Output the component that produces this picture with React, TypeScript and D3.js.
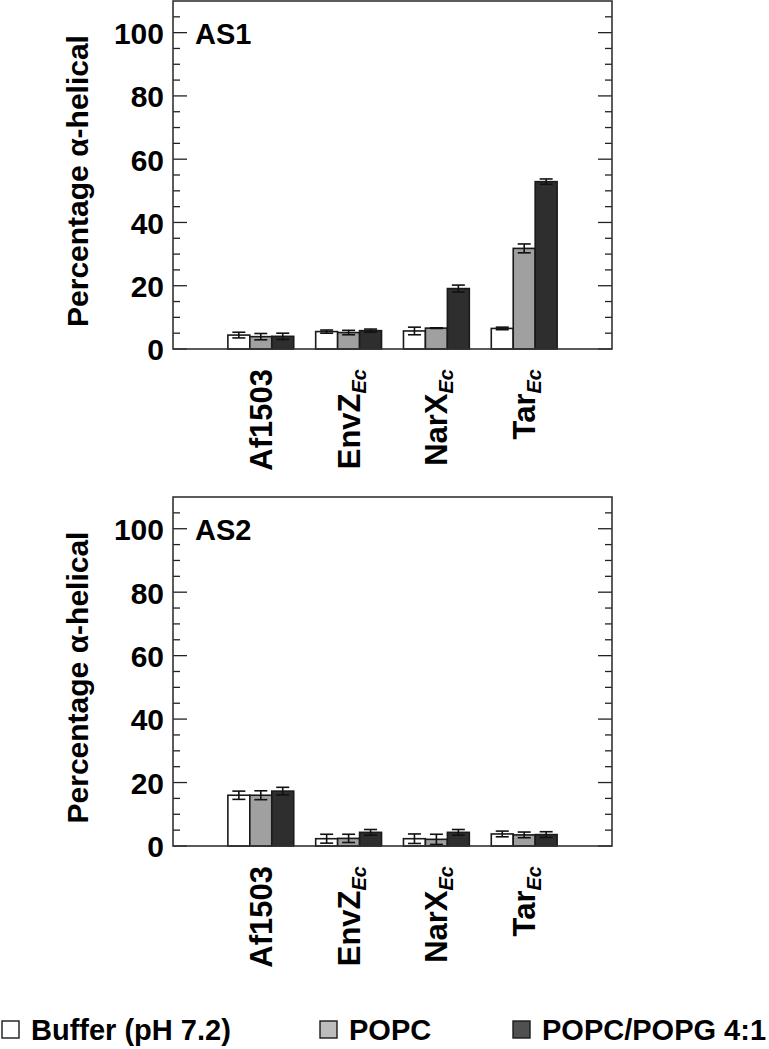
import * as d3 from 'd3';

const categories = ['Af1503', 'EnvZ', 'NarX', 'Tar'];
const subscripts = ['', 'Ec', 'Ec', 'Ec'];
const seriesNames = ['Buffer (pH 7.2)', 'POPC', 'POPC/POPG 4:1'];
const yTicks = [0, 20, 40, 60, 80, 100];

// AS1 panel
const as1Buffer = [4.4, 5.5, 5.7, 6.5];
const as1BufferErr = [0.9, 0.5, 1.2, 0.4];
const as1Popc = [3.9, 5.2, 6.6, 31.8];
const as1PopcErr = [1.0, 0.7, 0.1, 1.4];
const as1Popg = [4.0, 5.8, 19.1, 52.9];
const as1PopgErr = [1.0, 0.5, 1.1, 0.85];

// AS2 panel
const as2Buffer = [16.0, 2.3, 2.3, 3.8];
const as2BufferErr = [1.3, 1.4, 1.5, 0.9];
const as2Popc = [16.0, 2.4, 2.1, 3.5];
const as2PopcErr = [1.4, 1.3, 1.6, 0.9];
const as2Popg = [17.3, 4.3, 4.3, 3.6];
const as2PopgErr = [1.2, 0.9, 0.9, 0.9];

const barFill = ['#ffffff', '#a0a0a0', '#2e2e2e'];
const legendFill = ['#ffffff', '#bdbdbd', '#505050'];
const FONT = '"Liberation Sans", Arial, Helvetica, sans-serif';

const left = 173;
const right = 612;

const x = d3.scaleBand<string>()
  .domain(categories)
  .range([left, right])
  .paddingInner(0.25)
  .paddingOuter(0.625);

const xSeries = d3.scaleBand<number>()
  .domain([0, 1, 2])
  .range([0, x.bandwidth()]);

type PanelProps = {
  top: number;
  bottom: number;
  label: string;
  values: number[][];
  errors: number[][];
};

const Panel = ({ top, bottom, label, values, errors }: PanelProps) => {
  const y = d3.scaleLinear().domain([0, 110]).range([bottom, top]);
  const minor = d3.range(0, 110, 5);
  const capW = 13;
  const mid = (top + bottom) / 2 + 6;

  return (
    <g>
      {/* ticks, inside on both sides */}
      {minor.map(t => {
        const len = t % 20 === 0 ? 14 : 7;
        return (
          <g key={t} stroke="#222" strokeWidth={1.3}>
            <line x1={left} x2={left + len} y1={y(t)} y2={y(t)} />
            <line x1={right} x2={right - len} y1={y(t)} y2={y(t)} />
          </g>
        );
      })}
      {yTicks.map(t => (
        <text key={t} x={164} y={y(t)} dy="0.38em" textAnchor="end"
          fontSize={30} fontWeight="bold" fontFamily={FONT}>{t}</text>
      ))}

      {/* bars */}
      {values.map((series, s) => series.map((v, i) => {
        const bx = x(categories[i])! + xSeries(s)!;
        return (
          <rect key={`${s}-${i}`} x={bx} y={y(v)} width={xSeries.bandwidth()}
            height={y(0) - y(v)} fill={barFill[s]} stroke="#1a1a1a" strokeWidth={1.6} />
        );
      }))}

      {/* error bars */}
      {values.map((series, s) => series.map((v, i) => {
        const cx = x(categories[i])! + xSeries(s)! + xSeries.bandwidth() / 2;
        const e = errors[s][i];
        return (
          <g key={`e${s}-${i}`} stroke="#111" strokeWidth={1.6}>
            <line x1={cx} x2={cx} y1={y(v + e)} y2={y(v - e)} />
            <line x1={cx - capW / 2} x2={cx + capW / 2} y1={y(v + e)} y2={y(v + e)} />
            <line x1={cx - capW / 2} x2={cx + capW / 2} y1={y(v - e)} y2={y(v - e)} />
          </g>
        );
      }))}

      {/* frame */}
      <rect x={left} y={top} width={right - left} height={bottom - top}
        fill="none" stroke="#333" strokeWidth={1.6} />

      <text x={195} y={top + 43} fontSize={29} fontWeight="bold" fontFamily={FONT}>{label}</text>

      {/* axis title */}
      <text transform={`translate(88,${mid}) rotate(-90)`} textAnchor="middle"
        fontSize={30} fontWeight="bold" fontFamily={FONT}>Percentage α-helical</text>

      {/* category labels */}
      {categories.map((c, i) => {
        const cx = x(c)! + x.bandwidth() / 2;
        return (
          <text key={c} transform={`translate(${cx + 11},${bottom + 20}) rotate(-90)`}
            textAnchor="end" fontSize={31} fontWeight="bold" fontFamily={FONT}>
            {c}
            {subscripts[i] && (
              <tspan fontSize={20} fontStyle="italic" dy={6}>{subscripts[i]}</tspan>
            )}
          </text>
        );
      })}
    </g>
  );
};

const App = () => {
  const legendX = [2, 320, 513];
  return (
    <svg width={769} height={1049} style={{ position: 'absolute', left: 0, top: 0 }}>
      <rect width={769} height={1049} fill="#fff" />
      <Panel top={1} bottom={349} label="AS1"
        values={[as1Buffer, as1Popc, as1Popg]} errors={[as1BufferErr, as1PopcErr, as1PopgErr]} />
      <Panel top={497} bottom={846} label="AS2"
        values={[as2Buffer, as2Popc, as2Popg]} errors={[as2BufferErr, as2PopcErr, as2PopgErr]} />

      {seriesNames.map((n, i) => (
        <g key={n}>
          <rect x={legendX[i]} y={1021} width={17} height={17}
            fill={legendFill[i]} stroke="#1a1a1a" strokeWidth={1.4} />
          <text x={legendX[i] + 29} y={1040} fontSize={29} fontWeight="bold"
            fontFamily={FONT}>{n}</text>
        </g>
      ))}
    </svg>
  );
};

export default App;
